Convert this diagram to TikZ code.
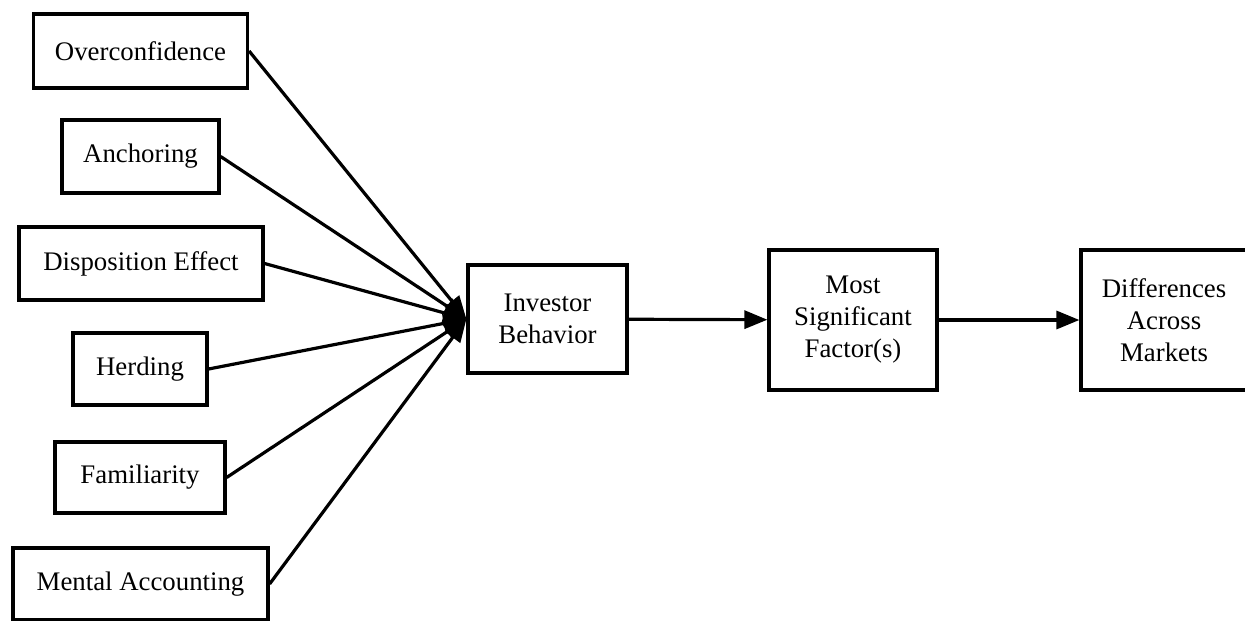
\documentclass[tikz,border=0pt]{standalone}
\usepackage{fontspec}
\setmainfont{Liberation Serif}
\usetikzlibrary{arrows.meta}

\begin{document}
\begin{tikzpicture}[x=0.5pt, y=-0.5pt,
  factor/.style={draw=black, line width=1.6pt, minimum height=36.5pt, inner sep=0pt, align=center, font=\fontsize{13.4}{16}\selectfont},
  stage/.style={draw=black, line width=1.6pt, inner sep=0pt, align=center, font=\fontsize{13.4}{16}\selectfont},
  arr/.style={-{Triangle[length=11.5pt, width=9pt]}, line width=1.6pt, black}
]
\useasboundingbox (0,0) rectangle (1245,620);

% Factors stacked
\node[factor, minimum width=107pt, minimum height=37pt] (over) at (140.5,51)  {Overconfidence};
\node[factor, minimum width=78.5pt] (anch) at (140.5,156.5) {Anchoring};
\node[factor, minimum width=122pt]  (disp) at (141,263.5)   {Disposition Effect};
\node[factor, minimum width=67pt, minimum height=36pt] (herd) at (140,369) {Herding};
\node[factor, minimum width=85pt, minimum height=35.5pt] (fam) at (140,477.5) {Familiarity};
\node[factor, minimum width=127.5pt, minimum height=36pt] (ment) at (140.5,584) {Mental Accounting};

% Behavior
\node[stage, minimum width=79.5pt, minimum height=54pt] (inv) at (547.5,319) {Investor\\Behavior};

% Factor(s)
\node[stage, minimum width=84pt, minimum height=70pt] (sig) at (853,320) {Most\\Significant\\Factor(s)};

% Markets
\node[stage, minimum width=83pt, minimum height=70pt] (mkt) at (1164,320) {Differences\\Across\\Markets};

% Arrows
\foreach \n in {over,anch,disp,herd,fam,ment} \draw[arr] (\n.east) -- (inv.west);
\draw[arr] (inv) -- (sig);
\draw[arr] (sig) -- (mkt);
\end{tikzpicture}
\end{document}
